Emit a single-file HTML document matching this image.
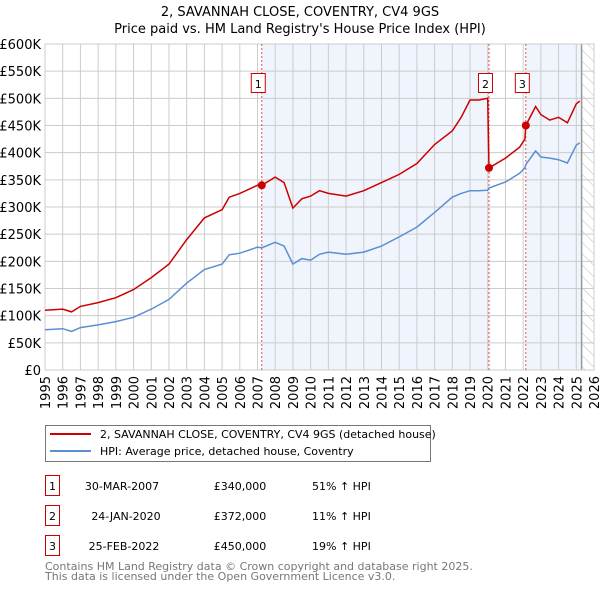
<!DOCTYPE html>
<html><head><meta charset="utf-8"><style>
body{margin:0;background:#fff;font-family:"Liberation Sans","DejaVu Sans",sans-serif;}
svg text{font-family:"DejaVu Sans","Liberation Sans",sans-serif;}
</style></head><body>
<svg id="chart" width="600" height="590" xmlns="http://www.w3.org/2000/svg">
<defs><pattern id="hatch" width="8" height="8" patternUnits="userSpaceOnUse" patternTransform="rotate(-45)"><line x1="0" y1="0" x2="0" y2="8" stroke="#bbb" stroke-width="1"/></pattern></defs>
<text x="300" y="16" text-anchor="middle" font-size="13">2, SAVANNAH CLOSE, COVENTRY, CV4 9GS</text>
<text x="300" y="33" text-anchor="middle" font-size="13">Price paid vs. HM Land Registry's House Price Index (HPI)</text>
<g id="plot"></g>
<g>
<rect x="45.5" y="425.5" width="385" height="36" fill="#fff" stroke="#777"/>
<line x1="50" y1="434" x2="91" y2="434" stroke="#cc0000" stroke-width="2"/>
<text x="100" y="438" font-size="11">2, SAVANNAH CLOSE, COVENTRY, CV4 9GS (detached house)</text>
<line x1="50" y1="451" x2="91" y2="451" stroke="#5b8fd4" stroke-width="2"/>
<text x="100" y="455" font-size="11">HPI: Average price, detached house, Coventry</text>
</g>
<g font-size="11">
<rect x="45.5" y="475.5" width="14" height="20" fill="#fff" stroke="#cc0000"/><text x="52.5" y="490" text-anchor="middle">1</text>
<text x="122" y="490" text-anchor="middle">30-MAR-2007</text><text x="240" y="490" text-anchor="middle">£340,000</text><text x="312" y="490">51% ↑ HPI</text>
<rect x="45.5" y="505.5" width="14" height="20" fill="#fff" stroke="#cc0000"/><text x="52.5" y="520" text-anchor="middle">2</text>
<text x="126" y="520" text-anchor="middle">24-JAN-2020</text><text x="240" y="520" text-anchor="middle">£372,000</text><text x="312" y="520">11% ↑ HPI</text>
<rect x="45.5" y="535.5" width="14" height="20" fill="#fff" stroke="#cc0000"/><text x="52.5" y="550" text-anchor="middle">3</text>
<text x="124" y="550" text-anchor="middle">25-FEB-2022</text><text x="240" y="550" text-anchor="middle">£450,000</text><text x="312" y="550">19% ↑ HPI</text>
</g>
<g font-size="11" fill="#777">
<text x="45" y="570">Contains HM Land Registry data © Crown copyright and database right 2025.</text>
<text x="45" y="580">This data is licensed under the Open Government Licence v3.0.</text>
</g>
</svg>
<script>
const dates=[1995,1996,1996.5,1997,1998,1999,2000,2001,2002,2003,2004,2005,2005.4,2006,2007,2007.24,2008,2008.5,2009,2009.5,2010,2010.5,2011,2012,2013,2014,2015,2016,2017,2018,2018.5,2019,2019.5,2020,2020.07,2021,2021.8,2022.1,2022.15,2022.7,2023,2023.5,2024,2024.5,2025,2025.2];
const hpiValues=[74,76,71,78,83,89,97,112,130,160,185,195,212,215,226,225,235,228,195,205,202,213,217,213,217,228,245,263,290,318,325,330,330,331,335,346,362,372,378,403,392,390,387,381,414,418];
const priceValues=[110,112,107,117,124,133,148,170,195,240,280,295,318,325,340,340,355,345,298,315,320,330,325,320,330,345,360,380,415,440,465,497,497,500,372,390,410,425,450,485,470,460,465,455,490,495];
const saleDates=[2007.24,2020.07,2022.15];
const salePrices=[340,372,450];
const saleLabels=["1","2","3"];
const yTicks=[0,50,100,150,200,250,300,350,400,450,500,550,600];
const yTickLabels=["£0","£50K","£100K","£150K","£200K","£250K","£300K","£350K","£400K","£450K","£500K","£550K","£600K"];
const xTicks=[];for(let y=1995;y<=2026;y++)xTicks.push(y);
const dataEnd=2025.3;
const L=45,R=594,T=44,B=370;
const X=v=>L+(v-1995)/(2026-1995)*(R-L);
const Y=v=>B-v/600*(B-T);
const ns="http://www.w3.org/2000/svg";
const g=document.getElementById('plot');
function mk(tag,attrs,parent){const e=document.createElementNS(ns,tag);for(const k in attrs)e.setAttribute(k,attrs[k]);(parent||g).appendChild(e);return e;}
let e;
e=mk('rect',{x:L,y:T,width:R-L,height:B-T,fill:'#fff'});


e=mk('rect',{x:X(saleDates[0]),y:T,width:X(saleDates[1])-X(saleDates[0]),height:B-T,fill:'#f0f4fc'});


e=mk('rect',{x:X(saleDates[2]),y:T,width:X(dataEnd)-X(saleDates[2]),height:B-T,fill:'#f0f4fc'});


e=mk('rect',{x:X(dataEnd),y:T,width:R-X(dataEnd),height:B-T,fill:'url(#hatch)'});


yTicks.forEach((v,i)=>{
 e=mk('line',{x1:L,x2:R,y1:Y(v),y2:Y(v),stroke:'#ccc','stroke-width':1});
 
 
 e=mk('text',{x:L-4,y:Y(v)+5,'text-anchor':'end','font-size':13});
 e.textContent=yTickLabels[i];
 
 
});
xTicks.forEach(v=>{
 e=mk('line',{x1:X(v),x2:X(v),y1:T,y2:B,stroke:'#ccc','stroke-width':1});
 
 
 e=mk('text',{x:0,y:0,'text-anchor':'end','font-size':13,transform:`translate(${X(v)+5},${B+6}) rotate(-90)`});
 e.textContent=v;
 
 
});
e=mk('line',{x1:X(dataEnd),x2:X(dataEnd),y1:T,y2:B,stroke:'#999','stroke-width':1.5});


e=mk('rect',{x:L,y:T,width:R-L,height:B-T,fill:'none',stroke:'#ccc'});


saleDates.forEach((d,i)=>{
 e=mk('line',{x1:X(d),x2:X(d),y1:T,y2:B,stroke:'#e05050','stroke-width':1,'stroke-dasharray':'2,2'});
 
 
});
const pts=a=>a.map((v,i)=>X(dates[i]).toFixed(1)+','+Y(v).toFixed(1)).join(' ');
e=mk('polyline',{points:pts(hpiValues),fill:'none',stroke:'#5b8fd4','stroke-width':1.5});


e=mk('polyline',{points:pts(priceValues),fill:'none',stroke:'#cc0000','stroke-width':1.5});


saleDates.forEach((d,i)=>{
 e=mk('circle',{cx:X(d),cy:Y(salePrices[i]),r:4,fill:'#cc0000'});
 
 
 e=mk('rect',{x:X(d)-10.5,y:73.5,width:14,height:19,fill:'#fff',stroke:'#cc0000'});
 
 
 e=mk('text',{x:X(d)-3.5,y:88,'text-anchor':'middle','font-size':11});
 e.textContent=saleLabels[i];
 
 
});
</script>
</body></html>
